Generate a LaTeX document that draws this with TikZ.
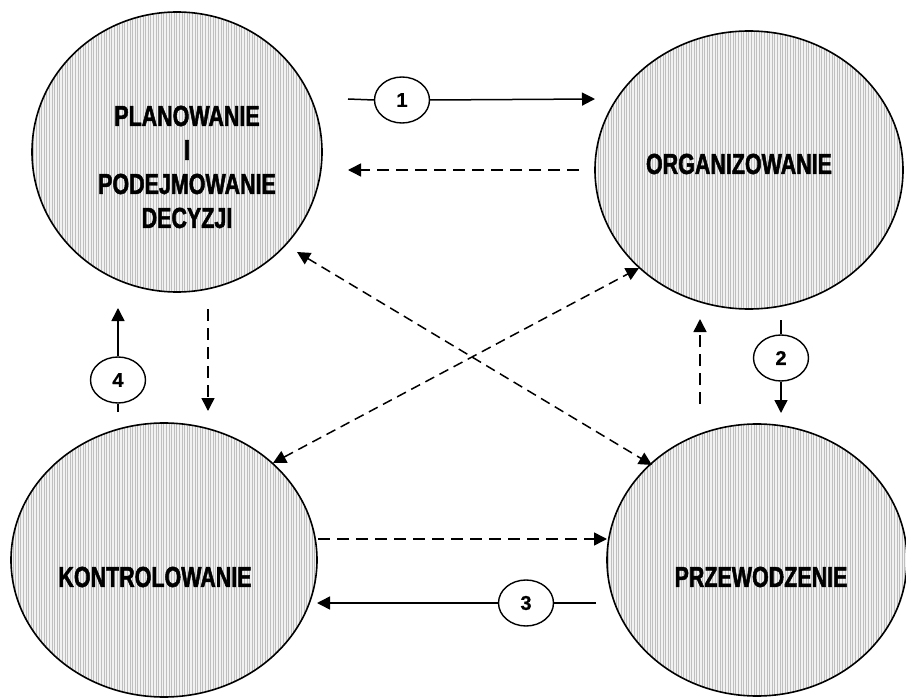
\documentclass[tikz,border=0pt]{standalone}
\usepackage{fontspec}
\newfontfamily\cf{Liberation Sans}[FakeStretch=0.74, BoldFeatures={FakeBold=1.6}]
\newfontfamily\nf{Liberation Sans}[BoldFeatures={FakeBold=0.8}]
\usetikzlibrary{shapes.geometric,arrows.meta,patterns.meta}
\tikzset{
  big/.style={ellipse, draw=black, line width=1.6pt, inner sep=0pt,
    preaction={fill=gray!10},
    pattern={Lines[angle=90,distance=2.6pt,line width=1pt]}, pattern color=gray!50},
  lbl/.style={font=\cf\bfseries\fontsize{29}{34}\selectfont, align=center, inner sep=0pt},
  num/.style={ellipse, draw=black, line width=1.4pt, fill=white, minimum width=55pt,
    minimum height=46pt, inner sep=0pt, font=\nf\bfseries\fontsize{20}{20}\selectfont},
  conn/.style={line width=1.5pt, -{Triangle[length=13pt,width=13pt]}},
  plain/.style={line width=1.5pt},
  dsh/.style={line width=1.5pt, dash pattern=on 12pt off 7pt, -{Triangle[length=13pt,width=13pt]}},
  dshd/.style={line width=1.5pt, dash pattern=on 10pt off 6pt,
    {Triangle[length=13pt,width=13pt]}-{Triangle[length=13pt,width=13pt]}}
}
\begin{document}
\begin{tikzpicture}[x=1pt,y=-1pt]
\useasboundingbox (0,0) rectangle (906,698);
\fill[white] (0,0) rectangle (906,698);
% big ellipses
\node[big, minimum width=290pt, minimum height=280pt] (pl) at (177,152) {};
\node[big, minimum width=308pt, minimum height=278pt] (org) at (749,170) {};
\node[big, minimum width=306pt, minimum height=274pt] (kon) at (164,560) {};
\node[big, minimum width=300pt, minimum height=272pt] (prz) at (757,560) {};
% labels
\node[lbl] (tpl) at (187,167) {PLANOWANIE\\I\\PODEJMOWANIE\\DECYZJI};
\node[lbl] (torg) at (739,164) {ORGANIZOWANIE};
\node[lbl] (tkon) at (155,577) {KONTROLOWANIE};
\node[lbl] (tprz) at (761,577) {PRZEWODZENIE};
% numbered ellipses
\node[num] (n1) at (402,100) {1};
\node[num] (n2) at (781,358) {2};
\node[num] (n3) at (526,603) {3};
\node[num] (n4) at (118,380) {4};
% coordinates
\coordinate (a1s) at (348,99);
\coordinate (a1e) at (595,99);
\coordinate (d1s) at (579,170);
\coordinate (d1e) at (348,170);
\coordinate (a2s) at (781,320);
\coordinate (a2e) at (781,413);
\coordinate (d2s) at (700,404);
\coordinate (d2e) at (700,319);
\coordinate (a3s) at (596,603);
\coordinate (a3e) at (317,603);
\coordinate (d3s) at (318,539);
\coordinate (d3e) at (607,539);
\coordinate (a4s) at (118,412);
\coordinate (a4e) at (118,308);
\coordinate (d4s) at (208,309);
\coordinate (d4e) at (208,411);
\coordinate (x1a) at (297,252);
\coordinate (x1b) at (652,465);
\coordinate (x2a) at (273,463);
\coordinate (x2b) at (639,268);
% connectors
\draw[plain] (a1s) -- (n1.west);
\draw[conn] (n1.east) -- (a1e);
\draw[dsh] (d1s) -- (d1e);
\draw[plain] (a2s) -- (n2.north);
\draw[conn] (n2.south) -- (a2e);
\draw[dsh] (d2s) -- (d2e);
\draw[plain] (a3s) -- (n3.east);
\draw[conn] (n3.west) -- (a3e);
\draw[dsh] (d3s) -- (d3e);
\draw[plain] (a4s) -- (n4.south);
\draw[conn] (n4.north) -- (a4e);
\draw[dsh] (d4s) -- (d4e);
\draw[dshd] (x1a) -- (x1b);
\draw[dshd] (x2a) -- (x2b);
\end{tikzpicture}
\end{document}
